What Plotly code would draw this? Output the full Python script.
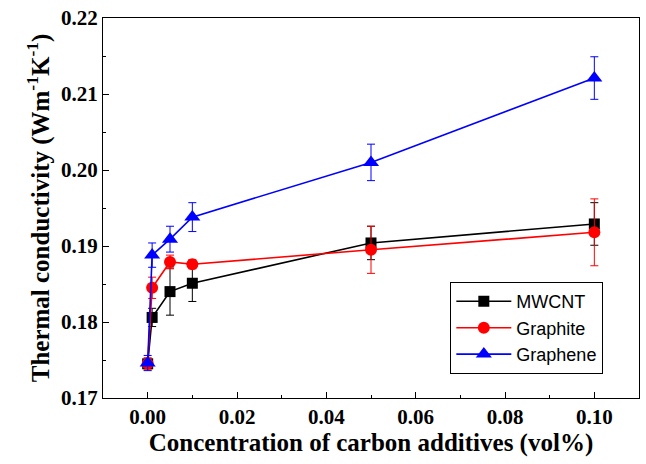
import plotly.graph_objects as go

conc = [0.0, 0.001, 0.005, 0.01, 0.05, 0.1]

mwcnt = [0.1745, 0.1806, 0.1840, 0.1851, 0.1904, 0.1929]
mwcnt_err = [0.0005, 0.0012, 0.0031, 0.0024, 0.0022, 0.0028]

graphite = [0.1745, 0.1845, 0.1879, 0.1876, 0.1895, 0.1918]
graphite_err = [0.0008, 0.0014, 0.0009, 0.0006, 0.0031, 0.0044]

graphene = [0.1746, 0.1888, 0.1909, 0.1938, 0.2010, 0.2121]
graphene_err = [0.0010, 0.0016, 0.0017, 0.0019, 0.0024, 0.0028]

names = ["MWCNT", "Graphite", "Graphene"]
colors = ["#000000", "#FF0000", "#0000FF"]
symbols = ["square", "circle", "triangle-up"]
sizes = [11, 12, 14]

FONT = "Liberation Serif"

fig = go.Figure()
for name, vals, errs, col, sym, sz in zip(
    names, [mwcnt, graphite, graphene], [mwcnt_err, graphite_err, graphene_err],
    colors, symbols, sizes):
    fig.add_trace(go.Scatter(
        x=conc, y=vals, name=name, mode="lines+markers",
        line=dict(color=col, width=1.6),
        marker=dict(symbol=sym, size=sz, color=col),
        error_y=dict(type="data", array=errs, visible=True, color=col,
                     thickness=1, width=4),
    ))

axis_common = dict(
    showline=True, linecolor="black", linewidth=1.3, mirror=True,
    ticks="inside", ticklen=6, tickwidth=1.2, tickcolor="black",
    showgrid=False, zeroline=False,
    tickfont=dict(family=FONT, size=21, color="black", weight="bold"),
)

fig.update_xaxes(
    range=[-0.01, 0.11], tickvals=[0, 0.02, 0.04, 0.06, 0.08, 0.10],
    tickformat=".2f",
    minor=dict(ticks="inside", ticklen=3, tickwidth=1, dtick=0.01, tickcolor="black"),
    title=dict(text="Concentration of carbon additives (vol%)",
               font=dict(family=FONT, size=25, color="black", weight="bold"),
               standoff=5),
    **axis_common)

fig.update_yaxes(
    range=[0.17, 0.22], tickvals=[0.17, 0.18, 0.19, 0.20, 0.21, 0.22],
    tickformat=".2f",
    minor=dict(ticks="inside", ticklen=3, tickwidth=1, dtick=0.005, tickcolor="black"),
    title=dict(text="Thermal conductivity (Wm<sup>-1</sup>K<sup>-1</sup>)",
               font=dict(family=FONT, size=25, color="black", weight="bold"),
               standoff=4),
    **axis_common)

fig.update_layout(
    width=646, height=464,
    margin=dict(l=103, r=6, t=15, b=66),
    paper_bgcolor="white", plot_bgcolor="white",
    showlegend=True,
    legend=dict(x=0.648, y=0.305, xanchor="left", yanchor="top",
                bordercolor="black", borderwidth=1, bgcolor="white",
                font=dict(family="Liberation Sans", size=18, color="black"),
                itemwidth=55, tracegroupgap=4),
)

fig.write_html("out.html")
